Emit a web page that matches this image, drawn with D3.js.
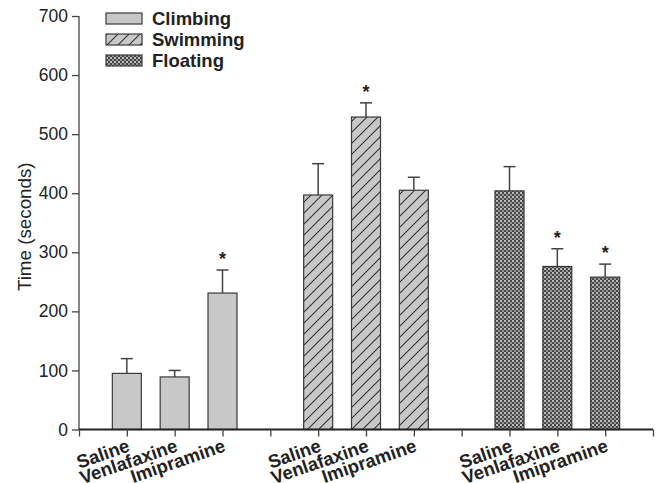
<!DOCTYPE html>
<html><head><meta charset="utf-8">
<script src="https://cdn.jsdelivr.net/npm/d3@7"></script>
<style>body{margin:0;background:#fff}svg{display:block}</style>
</head><body>
<svg id="c" width="661" height="483"></svg>
<script>
const drugs = ["Saline", "Venlafaxine", "Imipramine"];
const behaviours = ["Climbing", "Swimming", "Floating"];
const climbing = [95, 89, 231];
const climbingSem = [25, 11, 39];
const swimming = [397, 529, 405];
const swimmingSem = [53, 24, 22];
const floating = [404, 276, 258];
const floatingSem = [41, 30, 22];
const significant = [[false, false, true], [false, true, false], [false, true, true]];
const yTicks = [0, 100, 200, 300, 400, 500, 600, 700];

const values = [climbing, swimming, floating];
const sems = [climbingSem, swimmingSem, floatingSem];
const fills = ["#c8c8c8", "url(#hatch)", "url(#cross)"];
const FONT = "Liberation Sans, Arial, sans-serif";

const svg = d3.select("#c");
const defs = svg.append("defs");
const h = defs.append("pattern").attr("id", "hatch").attr("patternUnits", "userSpaceOnUse")
  .attr("width", 11).attr("height", 11);
h.append("rect").attr("width", 11).attr("height", 11).attr("fill", "#c8c8c8");
h.append("path").attr("d", "M0,11 L11,0 M-2,2 L2,-2 M9,13 L13,9").attr("stroke", "#333").attr("stroke-width", 1.1);
const c = defs.append("pattern").attr("id", "cross").attr("patternUnits", "userSpaceOnUse")
  .attr("width", 4).attr("height", 4);
c.append("rect").attr("width", 4).attr("height", 4).attr("fill", "#454545");
c.append("rect").attr("x", 0).attr("y", 0).attr("width", 2).attr("height", 2).attr("fill", "#bdbdbd");
c.append("rect").attr("x", 2).attr("y", 2).attr("width", 2).attr("height", 2).attr("fill", "#999");

const x = d3.scaleLinear().domain([0, 12]).range([79, 653]);
const y = d3.scaleLinear().domain([0, 700]).range([429.5, 16]);
const barW = 29;

behaviours.forEach((b, gi) => {
  const g = svg.append("g");
  drugs.forEach((d, di) => {
    const pos = gi * 4 + di + 1;
    const v = values[gi][di], e = sems[gi][di];
    const cx = x(pos);
    g.append("line").attr("x1", cx).attr("x2", cx).attr("y1", y(v)).attr("y2", y(v + e))
      .attr("stroke", "#444").attr("stroke-width", 1.5);
    g.append("line").attr("x1", cx - 6).attr("x2", cx + 6).attr("y1", y(v + e)).attr("y2", y(v + e))
      .attr("stroke", "#444").attr("stroke-width", 1.5);
    g.append("rect").attr("x", cx - barW / 2).attr("y", y(v)).attr("width", barW)
      .attr("height", y(0) - y(v)).attr("fill", fills[gi]).attr("stroke", "#3a3a3a").attr("stroke-width", 1.2);
    if (significant[gi][di]) {
      g.append("text").attr("x", cx).attr("y", y(v + e) - 5).attr("text-anchor", "middle")
        .attr("font-family", FONT).attr("font-weight", "bold")
        .attr("font-size", 18).attr("fill", "#222").text("*");
    }
  });
});

const ya = svg.append("g").attr("transform", `translate(${x(0)},0)`)
  .call(d3.axisLeft(y).tickValues(yTicks).tickSize(7).tickPadding(4));
ya.select(".domain").attr("stroke", "#444").attr("stroke-width", 1.3).attr("d", `M0,${y(700)}V${y(0)}`);
ya.selectAll(".tick line").attr("stroke", "#444").attr("stroke-width", 1.3);
ya.selectAll("text").attr("font-family", FONT).attr("font-size", 17.5).attr("fill", "#222");

const xa = svg.append("g").attr("transform", `translate(0,${y(0)})`)
  .call(d3.axisBottom(x).tickValues(d3.range(0, 13)).tickSize(7).tickFormat(""));
xa.select(".domain").attr("stroke", "#222").attr("stroke-width", 2.2).attr("d", `M${x(0)},0H${x(12)}`);
xa.selectAll(".tick line").attr("stroke", "#444").attr("stroke-width", 1.3);

behaviours.forEach((b, gi) => {
  drugs.forEach((d, di) => {
    const pos = gi * 4 + di + 1;
    svg.append("text").attr("transform", `translate(${x(pos) + 4},451) rotate(-19)`)
      .attr("text-anchor", "end").attr("font-family", FONT)
      .attr("font-weight", "bold").attr("font-size", 18.5).attr("fill", "#222").text(d);
  });
});

svg.append("text").attr("transform", `translate(31,${(y(0) + y(700)) / 2 + 4}) rotate(-90)`)
  .attr("text-anchor", "middle").attr("font-family", FONT)
  .attr("font-size", 18.8).attr("fill", "#222").text("Time (seconds)");

const lg = svg.append("g").attr("transform", "translate(106,13)");
behaviours.forEach((b, i) => {
  lg.append("rect").attr("x", 0).attr("y", i * 21).attr("width", 36).attr("height", 11)
    .attr("fill", fills[i]).attr("stroke", "#3a3a3a").attr("stroke-width", 1.2);
  lg.append("text").attr("x", 46).attr("y", i * 21 + 12).attr("font-family", FONT)
    .attr("font-weight", "bold").attr("font-size", 18.5).attr("fill", "#222").text(b);
});
</script>
</body></html>
